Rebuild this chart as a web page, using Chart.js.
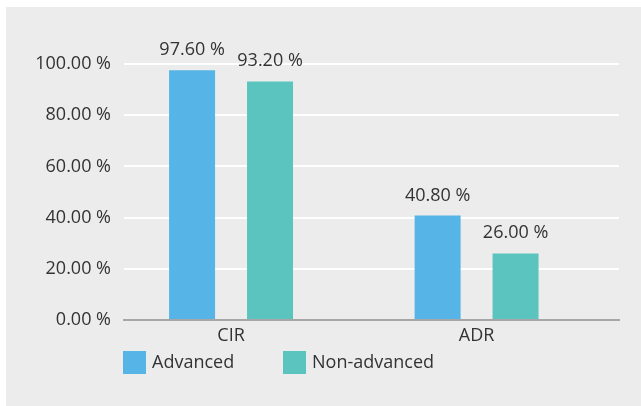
<!DOCTYPE html>
<html>
<head>
<meta charset="utf-8">
<script src="https://cdn.jsdelivr.net/npm/chart.js@4/dist/chart.umd.min.js"></script>
<style>
  html, body { margin: 0; padding: 0; background: #ffffff; }
  #panel { position: absolute; left: 6px; top: 7px; width: 635px; height: 399px; background: #ebeceb; }
  canvas { display: block; }
</style>
</head>
<body>
<div id="panel"><canvas id="rateChart" width="635" height="399"></canvas></div>
<script>
const categories = ['CIR', 'ADR'];
const advancedValues = [97.6, 40.8];
const nonAdvancedValues = [93.2, 26.0];
const yTicks = [0, 20, 40, 60, 80, 100];
const seriesNames = ['Advanced', 'Non-advanced'];
const seriesColors = ['#56b4e6', '#5bc4bf'];

const textColor = '#333333';
const fontFamily = '"Open Sans", "Noto Sans", sans-serif';
const fontSize = 18;

const pct = v => v.toFixed(2) + ' %';

// value labels above each bar
const barLabels = {
    id: 'barLabels',
    afterDatasetsDraw(chart) {
        const ctx = chart.ctx;
        ctx.save();
        ctx.font = fontSize + 'px ' + fontFamily;
        ctx.fillStyle = textColor;
        ctx.textAlign = 'center';
        ctx.textBaseline = 'alphabetic';
        chart.data.datasets.forEach((ds, di) => {
            chart.getDatasetMeta(di).data.forEach((bar, i) => {
                ctx.fillText(pct(ds.data[i].y), bar.x, bar.y - 15);
            });
        });
        ctx.restore();
    }
};

// legend drawn under the axis, left aligned with the plot
const squareLegend = {
    id: 'squareLegend',
    afterDraw(chart) {
        const ctx = chart.ctx;
        const left = chart.chartArea.left - 1;
        const top = 344;
        const offsets = [0, 160];
        ctx.save();
        ctx.font = fontSize + 'px ' + fontFamily;
        ctx.textBaseline = 'middle';
        ctx.textAlign = 'left';
        chart.data.datasets.forEach((ds, i) => {
            const x = left + offsets[i];
            ctx.fillStyle = ds.backgroundColor;
            ctx.fillRect(x, top, 23, 23);
            ctx.fillStyle = textColor;
            ctx.fillText(ds.label, x + 29, top + 12);
        });
        ctx.restore();
    }
};

const ctx = document.getElementById('rateChart').getContext('2d');

const chart = new Chart(ctx, {
    type: 'bar',
    data: {
        datasets: [
            {
                label: seriesNames[0],
                data: advancedValues.map((v, i) => ({ x: i, y: v })),
                backgroundColor: seriesColors[0]
            },
            {
                label: seriesNames[1],
                data: nonAdvancedValues.map((v, i) => ({ x: i, y: v })),
                backgroundColor: seriesColors[1]
            }
        ]
    },
    options: {
        responsive: false,
        animation: false,
        categoryPercentage: 0.635,
        barPercentage: 0.59,
        layout: {
            padding: { left: 0, right: 22, top: 57, bottom: 56 }
        },
        plugins: {
            legend: { display: false },
            tooltip: { enabled: false }
        },
        scales: {
            x: {
                type: 'linear',
                offset: false,
                min: -0.436,
                max: 1.58,
                afterBuildTicks: scale => {
                    scale.ticks = categories.map((c, i) => ({ value: i }));
                },
                afterFit: scale => { scale.height = 30; },
                grid: { display: false, offset: false, drawTicks: false },
                border: { display: true, color: '#a6a6a6', width: 2 },
                ticks: {
                    callback: v => categories[v],
                    color: textColor,
                    font: { family: fontFamily, size: fontSize },
                    padding: 5,
                    maxRotation: 0,
                    autoSkip: false
                }
            },
            y: {
                min: 0,
                max: 100,
                afterBuildTicks: scale => {
                    scale.ticks = yTicks.map(v => ({ value: v }));
                },
                afterFit: scale => { scale.width = 118; },
                grid: { color: '#ffffff', lineWidth: 2, drawTicks: false },
                border: { display: false },
                ticks: {
                    callback: v => pct(v),
                    color: textColor,
                    font: { family: fontFamily, size: fontSize },
                    padding: 13
                }
            }
        }
    },
    plugins: [barLabels, squareLegend]
});
</script>
</body>
</html>
